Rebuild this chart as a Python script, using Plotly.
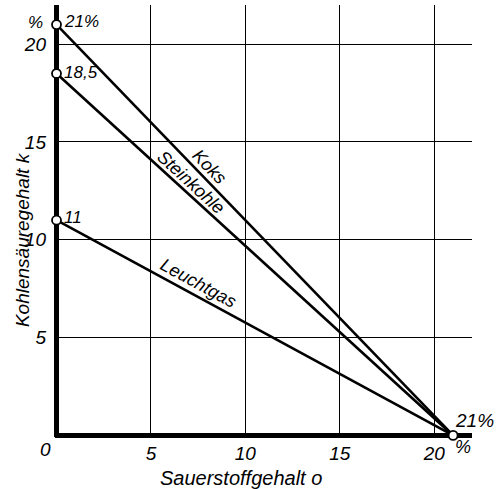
import plotly.graph_objects as go

# Data
fuels = ["Koks", "Steinkohle", "Leuchtgas"]
co2_max = [21, 18.5, 11]          # k at o = 0
o2_end = [21, 21, 21]              # o at k = 0
start_labels = ["21%", "18,5", "11"]
x_ticks = [5, 10, 15, 20]
y_ticks = [5, 10, 15, 20]

FAM = "Liberation Sans"
def F(size):
    return dict(family=FAM, size=size, color="black", style="italic")

fig = go.Figure()
for name, k0, o0 in zip(fuels, co2_max, o2_end):
    fig.add_trace(go.Scatter(x=[0, o0], y=[k0, 0], mode="lines",
                             line=dict(color="black", width=2.6),
                             showlegend=False, hoverinfo="skip"))

# endpoint circles
fig.add_trace(go.Scatter(x=[0] * len(co2_max) + [o2_end[0]], y=co2_max + [0],
                         mode="markers", cliponaxis=False,
                         marker=dict(size=9, color="white",
                                     line=dict(color="black", width=1.8)),
                         showlegend=False, hoverinfo="skip"))

annotations = []
for lab, k0, ys in zip(start_labels, co2_max, [3, 1, 3]):
    annotations.append(dict(x=0, y=k0, text=lab, showarrow=False,
                            xanchor="left", yanchor="middle", xshift=5, yshift=ys,
                            font=F(17)))
annotations.append(dict(x=o2_end[0], y=0, text="21%", showarrow=False,
                        xanchor="left", yanchor="middle", xshift=0, yshift=15,
                        font=F(19)))
# line labels
line_label_pos = [(8.1, 13.7, 46), (7.1, 12.95, 42.4), (7.5, 7.8, 28.5)]
for name, (lx, ly, ang) in zip(fuels, line_label_pos):
    annotations.append(dict(x=lx, y=ly, text=name, showarrow=False,
                            textangle=ang, font=F(18)))
# percent units and origin
annotations.append(dict(x=0, y=21.1, text="%", showarrow=False, xanchor="center",
                        yanchor="middle", xshift=-21, font=F(17)))
annotations.append(dict(x=21.5, y=0, text="%", showarrow=False, xanchor="center",
                        yanchor="middle", yshift=-12, font=F(18)))
annotations.append(dict(x=0, y=0, text="0", showarrow=False, xanchor="center",
                        yanchor="middle", xshift=-11, yshift=-14, font=F(19)))
# axis titles
annotations.append(dict(xref="paper", yref="paper", x=-0.079, y=0.456,
                        text="Kohlensäuregehalt k", showarrow=False,
                        textangle=-90, xanchor="center", yanchor="middle",
                        font=F(19)))
annotations.append(dict(xref="paper", yref="paper", x=0.446, y=-0.095,
                        text="Sauerstoffgehalt o", showarrow=False,
                        xanchor="center", yanchor="middle", font=F(20)))

fig.update_layout(
    width=500, height=489,
    margin=dict(l=55, r=28, t=5, b=52),
    paper_bgcolor="white", plot_bgcolor="white",
    font=F(19),
    annotations=annotations,
    xaxis=dict(range=[-0.08, 22], tickvals=x_ticks, ticks="", showgrid=True,
               gridcolor="black", gridwidth=1.3,
               zeroline=True, zerolinecolor="black", zerolinewidth=4.5,
               showline=False, automargin=False, ticklabelstandoff=3,
               tickfont=F(19)),
    yaxis=dict(range=[-0.08, 22], tickvals=y_ticks, ticks="", showgrid=True,
               gridcolor="black", gridwidth=1.3,
               zeroline=True, zerolinecolor="black", zerolinewidth=4.5,
               showline=False, automargin=False, ticklabelstandoff=8,
               tickfont=F(19)),
)

fig.write_html("out.html", config={"displayModeBar": False},
               post_script="document.body.style.margin='0';document.body.style.overflow='hidden';")
